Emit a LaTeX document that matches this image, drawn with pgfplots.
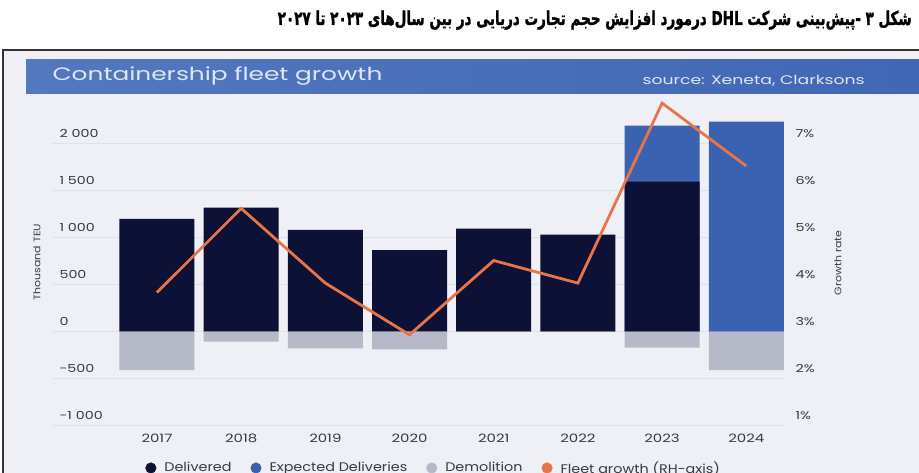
\documentclass[border=0pt]{standalone}
\usepackage{pgfplots}
\pgfplotsset{compat=1.18}
\usepackage{fontspec}
\setmainfont{Poppins}[FakeStretch=1.15]
\newfontfamily\tickfont{Poppins}[FakeStretch=1.3]
\newfontfamily\headfont{Poppins}[FakeStretch=1.38]
\newfontfamily\arabicfont[Script=Arabic, BoldFeatures={FakeBold=1.6}]{DejaVu Sans}
\TeXXeTstate=1

\definecolor{panelbg}{RGB}{238,240,246}
\definecolor{gridc}{RGB}{222,225,234}
\definecolor{hdrA}{RGB}{84,120,191}
\definecolor{hdrB}{RGB}{64,103,180}
\definecolor{hdrtxt}{RGB}{222,230,244}
\definecolor{navy}{RGB}{14,17,54}
\definecolor{expblue}{RGB}{58,98,176}
\definecolor{demgray}{RGB}{182,185,199}
\definecolor{fleetor}{RGB}{232,116,76}
\definecolor{txt}{RGB}{55,58,70}

\begin{document}
\begin{tikzpicture}
\useasboundingbox (0pt,0pt) rectangle (919pt,-473pt);
\clip (0pt,0pt) rectangle (919pt,-473pt);

% titre persan
\node[anchor=base east, inner sep=0pt] at (912pt,-25pt) {\resizebox{634pt}{14.5pt}{\arabicfont\bfseries\beginR شکل \beginL۳\endL{} -پیش‌بینی شرکت \beginL DHL\endL{} درمورد افزایش حجم تجارت دریایی در بین سال‌های \beginL۲۰۲۳\endL{} تا \beginL۲۰۲۷\endL\endR}};

% panneau
\fill[panelbg] (3pt,-50pt) rectangle (919pt,-473pt);
\draw[line width=1.3pt, black!80] (3pt,-474pt) -- (3pt,-50pt) -- (920pt,-50pt);
\shade[left color=hdrA, right color=hdrB] (26pt,-60pt) rectangle (919pt,-94pt);
\node[anchor=west, text=hdrtxt, font=\headfont\fontsize{18}{21}\selectfont] at (49pt,-76pt) {Containership fleet growth};
\node[anchor=west, text=hdrtxt, font=\headfont\fontsize{12.5}{15}\selectfont] at (639pt,-81pt) {source: Xeneta, Clarksons};

\node[rotate=90, text=txt, font=\fontsize{9.5}{11}\selectfont] at (37pt,-262pt) {Thousand TEU};
\node[rotate=90, text=txt, font=\fontsize{9.5}{11}\selectfont] at (838pt,-263pt) {Growth rate};

% barres (Expected = total livré + prévu, superposé)
\begin{axis}[
  at={(53pt,-425.5pt)}, anchor=south west,
  scale only axis, width=732pt, height=324.3pt,
  xmin=-1.235, xmax=7.46, ymin=-1000, ymax=2450,
  axis line style={draw=none}, tick style={draw=none},
  ytick={-1000,-500,0,500,1000,1500,2000},
  yticklabels={-1 000,-500,0,500,1 000,1 500,2 000},
  ymajorgrids, grid style={gridc, line width=1.2pt},
  yticklabel style={anchor=south west, xshift=3pt, yshift=2pt, text=txt, font=\tickfont\fontsize{11}{13}\selectfont},
  xtick={0,1,2,3,4,5,6,7},
  xticklabels={2017,2018,2019,2020,2021,2022,2023,2024},
  xticklabel style={text=txt, font=\tickfont\fontsize{11.5}{13}\selectfont, yshift=-1pt},
  ybar, bar width=75pt,
  legend style={at={(0.52,-0.131)}, anchor=center, draw=none, fill=none,
    legend columns=4, text=txt, font=\fontsize{12.5}{14}\selectfont,
    /tikz/every odd column/.append style={column sep=6pt},
    /tikz/every even column/.append style={column sep=17pt}},
]
\addlegendimage{legend image code/.code={\fill[navy] (5pt,0pt) circle (5.3pt);}}
\addlegendentry{Delivered}
\addlegendimage{legend image code/.code={\fill[expblue] (5pt,0pt) circle (5.3pt);}}
\addlegendentry{Expected Deliveries}
\addlegendimage{legend image code/.code={\fill[demgray] (5pt,0pt) circle (5.3pt);}}
\addlegendentry{Demolition}
\addlegendimage{legend image code/.code={\fill[fleetor] (5pt,0pt) circle (5.3pt);}}
\addlegendentry{Fleet growth (RH-axis)}

% Expected Deliveries (sommet de la pile)
\addplot[forget plot, fill=expblue, draw=none, bar shift=0pt] coordinates {
  (0,0) (1,0) (2,0) (3,0) (4,0) (5,0) (6,2190) (7,2232)
};
% Delivered
\addplot[forget plot, fill=navy, draw=none, bar shift=0pt] coordinates {
  (0,1197) (1,1317) (2,1080) (3,867) (4,1094) (5,1030) (6,1594) (7,0)
};
% Demolition
\addplot[forget plot, fill=demgray, draw=none, bar shift=0pt] coordinates {
  (0,-410) (1,-108) (2,-180) (3,-190) (4,-5) (5,-5) (6,-172) (7,-410)
};
\end{axis}

% croissance de la flotte, axe de droite
\begin{axis}[
  at={(53pt,-425.5pt)}, anchor=south west,
  scale only axis, width=732pt, height=324.3pt,
  xmin=-1.235, xmax=7.46, ymin=1, ymax=7.9,
  axis y line*=right, axis x line=none,
  axis line style={draw=none}, tick style={draw=none},
  ytick={1,2,3,4,5,6,7},
  yticklabels={1\%,2\%,3\%,4\%,5\%,6\%,7\%},
  yticklabel style={anchor=south west, xshift=7pt, yshift=2pt, text=txt, font=\tickfont\fontsize{11}{13}\selectfont},
]
\addplot[fleetor, line width=2.8pt, mark=none, line join=miter] coordinates {
  (0,3.83) (1,5.62) (2,4.03) (3,2.93) (4,4.51) (5,4.03) (6,7.86) (7,6.52)
};
\end{axis}
\end{tikzpicture}
\end{document}
